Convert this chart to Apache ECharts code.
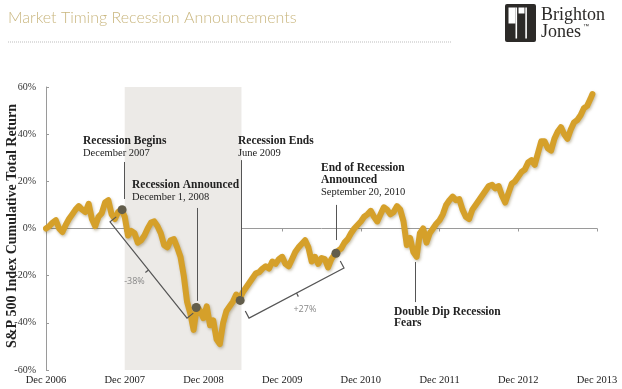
<!DOCTYPE html>
<html>
<head>
<meta charset="utf-8">
<script src="https://cdn.jsdelivr.net/npm/echarts@6/dist/echarts.min.js"></script>
<style>
html,body{margin:0;padding:0;background:#fff;}
#c{width:622px;height:389px;}
</style>
</head>
<body>
<div id="c"></div>
<script>
// Months since Dec 2006
const months = [0,0.5,1,1.5,2,2.5,3,3.5,4,4.5,5,5.5,6,6.5,7,7.5,8,8.5,9,9.5,10,10.5,11,11.5,
12,12.5,13,13.5,14,14.5,15,15.5,16,16.5,17,17.5,18,18.5,19,19.5,20,20.5,21,21.5,22,22.5,23,23.5,
24,24.5,25,25.5,26,26.5,27,27.5,28,28.5,29,29.5,30,30.5,31,31.5,32,32.5,33,33.5,34,34.5,35,35.5,
36,36.5,37,37.5,38,38.5,39,39.5,40,40.5,41,41.5,42,42.5,43,43.5,44,44.5,45,45.5,46,46.5,47,47.5,
48,48.5,49,49.5,50,50.5,51,51.5,52,52.5,53,53.5,54,54.5,55,55.5,56,56.5,57,57.5,58,58.5,59,59.5,
60,60.5,61,61.5,62,62.5,63,63.5,64,64.5,65,65.5,66,66.5,67,67.5,68,68.5,69,69.5,70,70.5,71,71.5,
72,72.5,73,73.5,74,74.5,75,75.5,76,76.5,77,77.5,78,78.5,79,79.5,80,80.5,81,81.5,82,82.5,83,83.3];
// S&P 500 cumulative total return (%)
const totalReturn = [0,1,2.5,3.5,0,-1.5,1.5,4,6,8,9.5,8,7,10.5,4,1,5,6.5,11,12,6,4,7,8,
5,-3,-1,-2,-6,-5,-3,0,2.5,3,1,-2,-7,-8,-5,-4.5,-8,-12,-20,-31,-36,-43,-33,-35,
-38,-33,-41,-39,-47,-49,-40,-35,-33,-31,-28,-30,-27,-25,-23,-21,-19,-18.5,-17,-16,-17,-14,-15,-13,
-12,-15,-16,-13,-10,-8,-6.5,-5,-8,-14,-12,-15,-12.5,-13,-16.5,-13,-11,-9.5,-8.5,-6,-4.5,-2,0,1.5,
3,5,6,7.5,5,3,6,9,8,6,7,9.5,8,3,-7,-4,-10,-12,-2,0,-6,-2,0,2,
3.5,6,10,12,13.5,12,12.5,8,5,4,8,10,12,14,16,18,18.5,17,18,14,11,15,19,20,
22,24,25,28,29,27,32,37,37,34,33,38,41,43,40,38,42,45,46,48,51,52,55,57];
const xTickLabels = ['Dec 2006','Dec 2007','Dec 2008','Dec 2009','Dec 2010','Dec 2011','Dec 2012','Dec 2013'];
const yTicks = [-60,-40,-20,0,20,40,60];
// recession period in months since Dec 2006
const recession = [12, 29.8];
// event markers [month, value]
const events = [
  {name:'Recession Begins', pt:[11.6, 8]},
  {name:'Recession Announced', pt:[22.9, -33.5]},
  {name:'Recession Ends', pt:[29.6, -30.5]},
  {name:'End of Recession Announced', pt:[44.2, -10.5]}
];
// leader lines [month, from value, to value]
const leaders = [[11.9, 28.2, 12.5],[23.0, 8.7, -30.7],[29.75, 29.0, -28.6],[44.2, 10.0, -4.9],[56.25, -14.2, -31.2]];
// brackets: start, end (data coords), label
const brackets = [
  {a:[9.76, 2.8], b:[21.5, -38.0], label:'-38%'},
  {a:[30.95, -38.0], b:[45.43, -16.75], label:'+27%'}
];

const serif = '"Liberation Serif", "DejaVu Serif", serif';
const chart = echarts.init(document.getElementById('c'), null, {renderer:'canvas'});
const lineData = months.map((m,i)=>[m,totalReturn[i]]);

chart.setOption({
  animation:false,
  backgroundColor:'#fff',
  grid:{left:46,right:25,top:87,bottom:19,containLabel:false,outerBoundsMode:'none'},
  xAxis:{type:'value',min:0,max:84,interval:12,
    axisLine:{lineStyle:{color:'#9a9a9a',width:1}},
    axisTick:{show:true,length:3,lineStyle:{color:'#9a9a9a'}},
    splitLine:{show:false},
    axisLabel:{color:'#222',fontFamily:serif,fontSize:10.5,margin:5,
      formatter:(v)=>xTickLabels[Math.round(v/12)]}
  },
  yAxis:{type:'value',min:-60,max:60,interval:20,
    axisLine:{show:true,lineStyle:{color:'#9a9a9a',width:1}},
    axisTick:{show:true,inside:true,length:3,lineStyle:{color:'#9a9a9a'}},
    splitLine:{show:false},
    axisLabel:{color:'#333',fontFamily:serif,fontSize:10,margin:10,formatter:(v)=>v+'%'}
  },
  series:[
    {type:'line',data:[],z:1,silent:true,
      markArea:{silent:true,itemStyle:{color:'#ECEAE7'},data:[[{xAxis:recession[0]},{xAxis:recession[1]}]]}},
    {type:'line',data:lineData,z:3,showSymbol:false,smooth:false,
      lineStyle:{color:'#D5A02A',width:6,join:'round',cap:'round',shadowColor:'rgba(90,70,10,0.35)',shadowBlur:3,shadowOffsetX:1,shadowOffsetY:1.5},
      markPoint:{silent:true,symbol:'circle',symbolSize:9,itemStyle:{color:'#625d4b'},label:{show:false},
        data:events.map(e=>({coord:e.pt}))}
    }
  ]
});

function P(p){return chart.convertToPixel({seriesIndex:1},p);}
const g = [];
// title
g.push({type:'text',left:8,top:10,style:{text:'Market Timing Recession Announcements',fill:'#C9B67E',font:'300 16px Lato, "Open Sans", sans-serif'}});
g.push({type:'line',shape:{x1:8,y1:42,x2:452,y2:42},style:{stroke:'#bdbdbd',lineWidth:1,lineDash:[1,1]}});
// logo
g.push({type:'rect',shape:{x:505,y:4,width:31,height:38,r:2},style:{fill:'#2c2a28'}});
g.push({type:'rect',shape:{x:508.5,y:7.5,width:7,height:16},style:{fill:'#fff'}});
g.push({type:'rect',shape:{x:515.5,y:7.5,width:1.6,height:31},style:{fill:'#fff'}});
g.push({type:'rect',shape:{x:518.5,y:7.5,width:6,height:6},style:{fill:'#fff'}});
g.push({type:'rect',shape:{x:525.3,y:7.5,width:1.6,height:31},style:{fill:'#fff'}});
g.push({type:'text',x:541,y:15,style:{text:'Brighton',fill:'#2c2a28',font:'18px '+serif,textVerticalAlign:'middle'}});
g.push({type:'text',x:541,y:32,style:{text:'Jones',fill:'#2c2a28',font:'18px '+serif,textVerticalAlign:'middle'}});
g.push({type:'text',x:583,y:26,style:{text:'™',fill:'#2c2a28',font:'6px sans-serif',textVerticalAlign:'middle'}});

// y axis title
g.push({type:'text',x:12,y:226,rotation:Math.PI/2,style:{text:'S&P 500 Index Cumulative Total Return',fill:'#222',font:'bold 14px '+serif,textAlign:'center',textVerticalAlign:'middle'}});

// recession header
const rA = P([recession[0],0]), rB = P([recession[1],0]);
g.push({type:'text',x:(rA[0]+rB[0])/2,y:94,style:{text:'← Recession →',fill:'#222',font:'bold 12px '+serif,textAlign:'center',textVerticalAlign:'middle'}});

// leader lines
leaders.forEach(l=>{
  const a=P([l[0],l[1]]), b=P([l[0],l[2]]);
  g.push({type:'line',z:10,shape:{x1:Math.round(a[0])+0.5,y1:a[1],x2:Math.round(a[0])+0.5,y2:b[1]},style:{stroke:'#555',lineWidth:1}});
});
// brackets
brackets.forEach(bk=>{
  const a=P(bk.a), b=P(bk.b);
  const dx=b[0]-a[0], dy=b[1]-a[1], L=Math.hypot(dx,dy);
  const ux=dx/L, uy=dy/L;
  let px=-uy, py=ux; if(py>0){px=-px;py=-py;}
  const h=8;
  const pts=[[a[0]+px*h,a[1]+py*h],a,b,[b[0]+px*h,b[1]+py*h]];
  g.push({type:'polyline',z:10,shape:{points:pts},style:{stroke:'#555',lineWidth:1.2,fill:null}});
  const mx=(a[0]+b[0])/2, my=(a[1]+b[1])/2;
  g.push({type:'line',z:10,shape:{x1:mx,y1:my,x2:mx-px*4,y2:my-py*4},style:{stroke:'#555',lineWidth:1.2}});
  g.push({type:'text',z:10,x:mx-px*18,y:my-py*18,style:{text:bk.label,fill:'#888',font:'9px "Open Sans", sans-serif',textAlign:'center',textVerticalAlign:'middle'}});
});

// annotation texts
function t(x,y,s,bold,size){g.push({type:'text',z:10,x:x,y:y,style:{text:s,fill:'#222',font:(bold?'bold ':'')+size+'px '+serif,textVerticalAlign:'middle'}});}
t(83,141,'Recession Begins',true,11.5); t(83,153,'December 2007',false,10.5);
t(132,185,'Recession Announced',true,11.5); t(132,197,'December 1, 2008',false,10.5);
t(238,141,'Recession Ends',true,11.5); t(238,153,'June 2009',false,10.5);
t(321,168,'End of Recession',true,11.5); t(321,180,'Announced',true,11.5); t(321,192,'September 20, 2010',false,10.5);
t(394,312,'Double Dip Recession',true,11.5); t(394,323,'Fears',true,11.5);

chart.setOption({graphic:{elements:g}});
</script>
</body>
</html>
